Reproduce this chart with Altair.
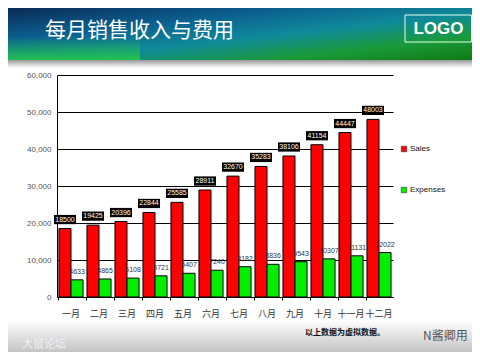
import altair as alt
import pandas as pd

months = ["一月", "二月", "三月", "四月", "五月", "六月", "七月", "八月", "九月", "十月", "十一月", "十二月"]
sales = [18500, 19425, 20396, 22844, 25585, 28911, 32670, 35283, 38106, 41154, 44447, 48003]
expenses = [4633, 4865, 5108, 5721, 6407, 7240, 8182, 8836, 9543, 10307, 11131, 12022]
series_names = ["Sales", "Expenses"]
series_colors = ["#ff0000", "#00ee00"]
y_ticks = [0, 10000, 20000, 30000, 40000, 50000, 60000]

title_text = "每月销售收入与费用"
logo_text = "LOGO"
note_text = "以上数据为虚拟数据。"

rows = []
for m, s, e in zip(months, sales, expenses):
    rows.append({"month": m, "series": "Sales", "value": s, "label": str(s)})
    rows.append({"month": m, "series": "Expenses", "value": e, "label": str(e)})
df = pd.DataFrame(rows)
one = pd.DataFrame({"k": [0]})

# layout: svg starts at screen (8, 8); plot area at screen (57,75)-(393,297)
PL, PT, PW, PH = 49, 67, 336, 222
TOTAL_W, TOTAL_H = 464, 344
PR = TOTAL_W - PL - PW
PB = TOTAL_H - PT - PH
OX, OY = 8 + PL, 8 + PT  # screen coords of plot origin


def sx(v):
    return v - OX


def sy(v):
    return v - OY


x_left = -PL
x_right = TOTAL_W - PL
y_bottom = TOTAL_H - PT

header = alt.Chart(one).mark_rect(
    color=alt.LinearGradient(
        gradient="linear", x1=0, y1=0, x2=1, y2=1,
        stops=[
            alt.GradientStop(color="#0a2a55", offset=0),
            alt.GradientStop(color="#0b5f8f", offset=0.3),
            alt.GradientStop(color="#0f8a9a", offset=0.55),
            alt.GradientStop(color="#1a9a3a", offset=0.78),
            alt.GradientStop(color="#0e7a12", offset=1),
        ],
    )
).encode(x=alt.value(x_left), x2=alt.value(x_right), y=alt.value(-PT), y2=alt.value(sy(60)))

header_glow = alt.Chart(one).mark_rect(
    color=alt.LinearGradient(
        gradient="linear", x1=0, y1=0, x2=0, y2=1,
        stops=[
            alt.GradientStop(color="rgba(40,200,60,0)", offset=0),
            alt.GradientStop(color="rgba(40,200,60,0)", offset=0.55),
            alt.GradientStop(color="rgba(40,210,60,0.75)", offset=1),
        ],
    )
).encode(x=alt.value(x_left), x2=alt.value(sx(140)), y=alt.value(-PT), y2=alt.value(sy(60)))

header_shadow = alt.Chart(one).mark_rect(
    color=alt.LinearGradient(
        gradient="linear", x1=0, y1=0, x2=0, y2=1,
        stops=[
            alt.GradientStop(color="#9a9a9a", offset=0),
            alt.GradientStop(color="#ffffff", offset=1),
        ],
    )
).encode(x=alt.value(x_left), x2=alt.value(x_right), y=alt.value(sy(60)), y2=alt.value(sy(68)))

footer = alt.Chart(one).mark_rect(
    color=alt.LinearGradient(
        gradient="linear", x1=0, y1=0, x2=0, y2=1,
        stops=[
            alt.GradientStop(color="#ffffff", offset=0),
            alt.GradientStop(color="#c4c4c4", offset=1),
        ],
    )
).encode(x=alt.value(x_left), x2=alt.value(x_right), y=alt.value(sy(320)), y2=alt.value(y_bottom))

title = alt.Chart(one).mark_text(
    text=title_text, color="white", fontSize=21, font="Noto Sans CJK SC",
    align="left", baseline="middle"
).encode(x=alt.value(sx(45)), y=alt.value(sy(31)))

logo_box = alt.Chart(one).mark_rect(
    fill="transparent", stroke="#e8ffe8", strokeWidth=1
).encode(x=alt.value(sx(405)), x2=alt.value(sx(471.5)), y=alt.value(sy(15)), y2=alt.value(sy(42)))

logo = alt.Chart(one).mark_text(
    text=logo_text, color="white", fontSize=17, fontWeight="bold", font="Liberation Sans",
    align="center", baseline="middle"
).encode(x=alt.value(sx(438.5)), y=alt.value(sy(29)))

note = alt.Chart(one).mark_text(
    text=note_text, color="#111111", fontSize=8, fontWeight="bold", font="Noto Sans CJK SC",
    align="left", baseline="middle"
).encode(x=alt.value(sx(305)), y=alt.value(sy(333)))

wm_right = alt.Chart(one).mark_text(
    text="N酱卿用", color="#555555", fontSize=12, font="Noto Sans CJK SC",
    align="left", baseline="middle"
).encode(x=alt.value(sx(423)), y=alt.value(sy(336)))

wm_left = alt.Chart(one).mark_text(
    text="大鼠论坛", color="#f4f4f4", fontSize=11, font="Noto Sans CJK SC",
    align="left", baseline="middle", opacity=0.9
).encode(x=alt.value(sx(22)), y=alt.value(sy(345)))

x_enc = alt.X(
    "month:N", sort=months, title=None,
    scale=alt.Scale(paddingInner=0.14, paddingOuter=0.07),
    axis=alt.Axis(
        labelAngle=0, labelFontSize=9, labelColor="#333333", labelFont="Noto Sans CJK SC",
        labelPadding=9, domainColor="black", domainWidth=1, ticks=True, tickSize=3,
        tickColor="black", bandPosition=0, grid=False,
    ),
)
xoff = alt.XOffset("series:N", sort=series_names, scale=alt.Scale(paddingInner=0))
y_enc = alt.Y(
    "value:Q", title=None,
    scale=alt.Scale(domain=[0, 60000]),
    axis=alt.Axis(
        values=y_ticks, format=",d", labelOverlap=False,
        labelFontSize=8, labelColor="#555555", labelFont="Liberation Sans",
        labelPadding=6, ticks=False, domainColor="black", domainWidth=1,
        grid=True, gridColor="black", gridWidth=1, gridOpacity=1,
    ),
)

bars = alt.Chart(df).mark_bar(stroke="black", strokeWidth=1).encode(
    x=x_enc, xOffset=xoff, y=y_enc,
    color=alt.Color(
        "series:N", sort=series_names,
        scale=alt.Scale(domain=series_names, range=series_colors),
        legend=alt.Legend(
            title=None, orient="none", legendX=sx(400), legendY=sy(145),
            symbolType="square", symbolSize=30, symbolStrokeColor="#333333",
            symbolStrokeWidth=0.6, labelFontSize=8, labelFont="Liberation Sans",
            labelColor="#111111", labelOffset=2, rowPadding=33,
        ),
    ),
)

sales_df = df[df.series == "Sales"]
exp_df = df[df.series == "Expenses"]

box = alt.Chart(sales_df).mark_point(
    shape="M -1 -0.42 L 1 -0.42 L 1 0.42 L -1 0.42 Z", size=484, filled=True,
    color="black", opacity=1, yOffset=-9,
).encode(x=x_enc, xOffset=xoff, y=y_enc)

sales_lbl = alt.Chart(sales_df).mark_text(
    color="white", fontSize=7, font="Liberation Sans",
    baseline="middle", dy=-9,
).encode(x=x_enc, xOffset=xoff, y=y_enc, text="label:N")

exp_lbl = alt.Chart(exp_df).mark_text(
    color="#333333", fontSize=7, font="Liberation Sans",
    baseline="bottom", dy=-5,
).encode(x=x_enc, xOffset=xoff, y=y_enc, text="label:N")

chart = alt.layer(
    header, header_glow, header_shadow, footer, title, logo_box, logo, note, wm_right, wm_left,
    bars, box, sales_lbl, exp_lbl,
).properties(
    width=PW, height=PH,
    autosize=alt.AutoSizeParams(type="none"),
    padding={"left": PL, "top": PT, "right": PR, "bottom": PB},
    background="white",
).configure_view(stroke=None)

chart.save("out.html", embed_options={"renderer": "svg", "actions": False})
